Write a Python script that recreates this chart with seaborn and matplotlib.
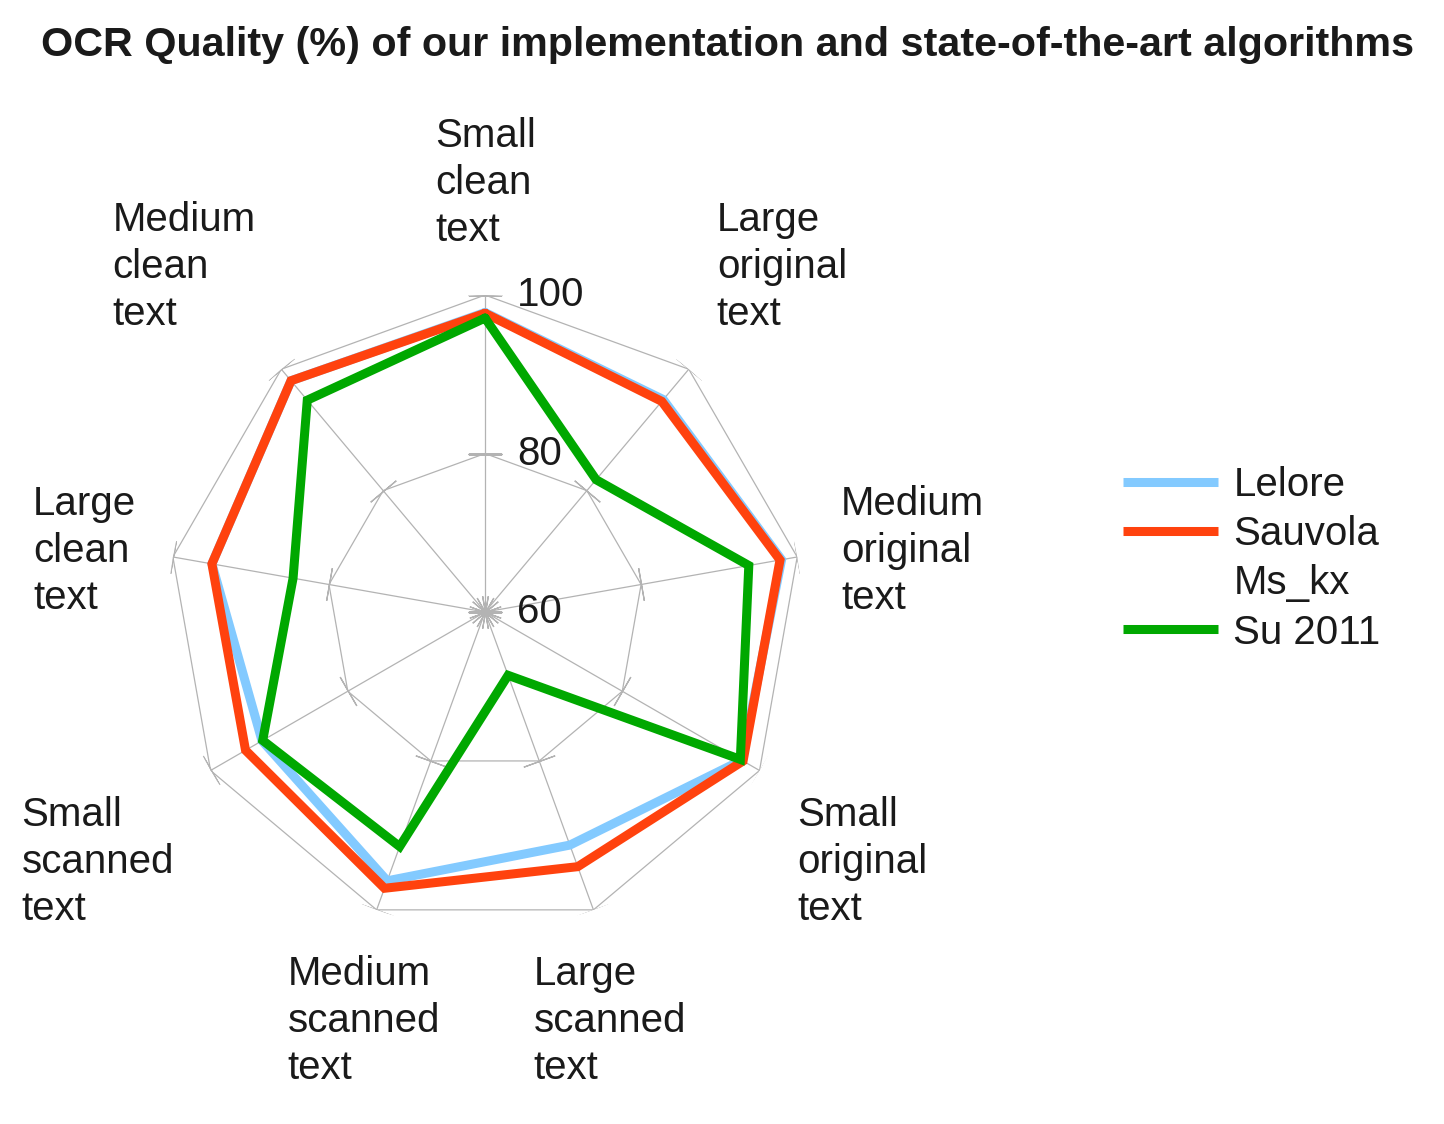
import numpy as np
import pandas as pd
import matplotlib
matplotlib.use("Agg")
import matplotlib.pyplot as plt
import seaborn as sns
from matplotlib.lines import Line2D

# categories clockwise from the top
categories = ["Small clean text", "Large original text", "Medium original text",
              "Small original text", "Large scanned text", "Medium scanned text",
              "Small scanned text", "Large clean text", "Medium clean text"]

lelore = [97.8, 95.0, 98.0, 97.4, 91.3, 96.1, 92.5, 95.0, 98.1]
sauvola = [97.7, 94.7, 97.8, 97.6, 94.2, 97.1, 94.9, 95.0, 98.1]
su2011 = [97.1, 81.8, 93.8, 97.2, 68.5, 91.5, 92.4, 84.6, 94.9]

series_names = ["Lelore", "Sauvola", "Ms_kx", "Su 2011"]
radial_ticks = [60, 80, 100]

colors = {"Lelore": "#83caff", "Sauvola": "#ff420e", "Ms_kx": "none", "Su 2011": "#00a800"}

# where each category label sits, pixels from its outer vertex (left edge, middle)
label_offsets = [(-50, 112), (28, 102), (44, 6), (38, -92), (-60, -111),
                 (-89, -111), (-189, -92), (-140, 6), (-169, 102)]

sns.set_style("white")
plt.rcParams['font.family'] = ['Liberation Sans', 'DejaVu Sans']
text_color = "#1a1a1a"
fs = 29

n = len(categories)
theta = np.linspace(0, 2 * np.pi, n, endpoint=False)
theta_closed = np.append(theta, 2 * np.pi)

# long table for seaborn, each loop closed on its first point
rows = []
for name, vals in [("Lelore", lelore), ("Sauvola", sauvola), ("Su 2011", su2011)]:
    closed = vals + vals[:1]
    for t, v in zip(theta_closed, closed):
        rows.append({"series": name, "theta": t, "value": v})
df = pd.DataFrame(rows)

fig = plt.figure(figsize=(14.44, 11.24), dpi=100)
ax = fig.add_axes([0.1164, 0.1735, 0.439, 0.564], projection="polar")
ax.set_theta_zero_location("N")
ax.set_theta_direction(-1)
ax.set_ylim(60, 100)
ax.grid(False)
ax.set_xticks([])
ax.set_yticks([])
ax.spines["polar"].set_visible(False)
ax.patch.set_alpha(0)

grid_color = "#b3b3b3"
# polygon rings
for r in radial_ticks[1:]:
    ax.plot(theta_closed, [r] * (n + 1), color=grid_color, lw=0.9, zorder=1)
# spokes with small ticks at each ring
for t in theta:
    deg = np.degrees(t)
    ax.plot([t, t], [radial_ticks[0], radial_ticks[-1]], color=grid_color, lw=0.9, zorder=1)
    ax.plot([t] * len(radial_ticks), radial_ticks, ls="none", marker=(2, 2, 90 - deg),
            markersize=24, markeredgewidth=0.9, color=grid_color, zorder=1)

sns.lineplot(data=df, x="theta", y="value", hue="series",
             hue_order=["Lelore", "Sauvola", "Su 2011"], palette=colors,
             sort=False, estimator=None, linewidth=6.5, legend=False, ax=ax)
for line in ax.lines:
    if line.get_linewidth() > 5:
        line.set_solid_joinstyle("miter")
        line.set_zorder(3)
ax.set_xlabel("")
ax.set_ylabel("")

# radial value labels next to the top spoke
for v in radial_ticks:
    ax.annotate(str(v), xy=(0, v), xytext=(32, 0), textcoords="offset pixels",
                ha="left", va="center", fontsize=fs, color=text_color)

# category labels around the chart
for t, lab, off in zip(theta, categories, label_offsets):
    ax.annotate(lab.replace(" ", "\n"), xy=(t, 100), xytext=off, textcoords="offset pixels",
                ha="left", va="center", multialignment="left", fontsize=fs,
                color=text_color, linespacing=1.3)

handles = [Line2D([], [], color=colors[s], lw=6.5, solid_capstyle="butt") for s in series_names]
fig.legend(handles, series_names, loc="center left", bbox_to_anchor=(0.778, 0.503),
           frameon=False, fontsize=fs, handlelength=2.35, handletextpad=0.38,
           labelspacing=0.28, borderpad=0, borderaxespad=0, labelcolor=text_color)

fig.text(0.504, 0.96, "OCR Quality (%) of our implementation and state-of-the-art algorithms",
         ha="center", va="center", fontsize=29.7, fontweight="bold", color=text_color)

fig.savefig("out.png", dpi=100)
